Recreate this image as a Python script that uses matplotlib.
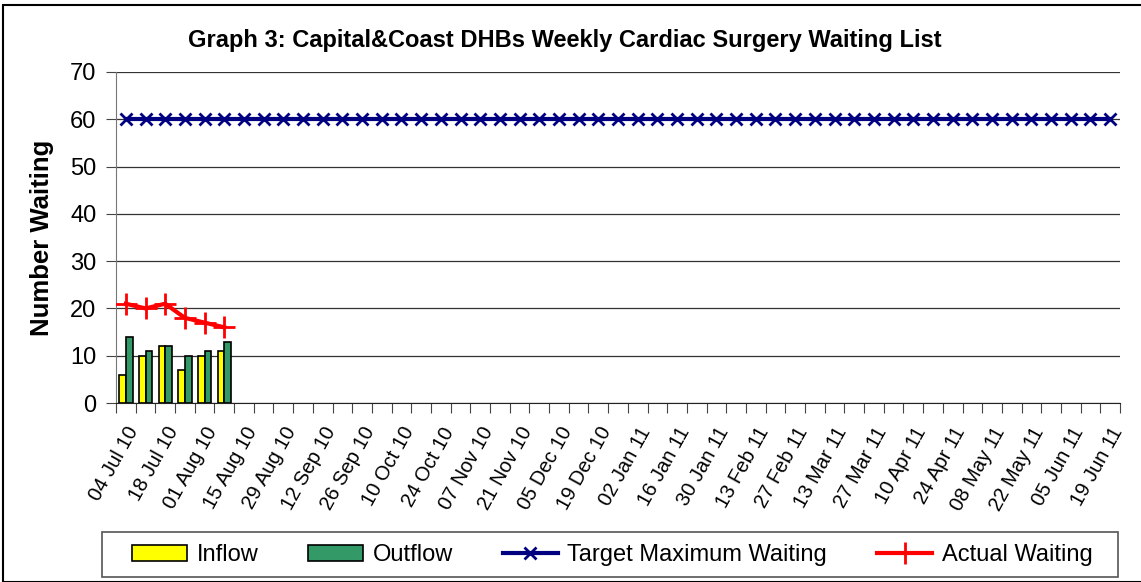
import matplotlib.pyplot as plt
import matplotlib.patches as mpatches
import matplotlib.transforms as mtransforms
import numpy as np

plt.rcParams['font.family'] = ['Liberation Sans', 'DejaVu Sans']

# Weekly categories: 04 Jul 10 .. 19 Jun 11 (51 weeks), labelled every 2nd week
week_labels = ["04 Jul 10", "18 Jul 10", "01 Aug 10", "15 Aug 10", "29 Aug 10",
               "12 Sep 10", "26 Sep 10", "10 Oct 10", "24 Oct 10", "07 Nov 10",
               "21 Nov 10", "05 Dec 10", "19 Dec 10", "02 Jan 11", "16 Jan 11",
               "30 Jan 11", "13 Feb 11", "27 Feb 11", "13 Mar 11", "27 Mar 11",
               "10 Apr 11", "24 Apr 11", "08 May 11", "22 May 11", "05 Jun 11",
               "19 Jun 11"]
n_weeks = 51

inflow = [6, 10, 12, 7, 10, 11]
outflow = [14, 11, 12, 10, 11, 13]
actual_waiting = [21, 20, 21, 18, 17, 16]
target_max = [60] * n_weeks

W, H = 1141, 582
fig = plt.figure(figsize=(W / 100, H / 100), dpi=100)
ax = fig.add_axes([116 / W, 1 - 403 / H, (1120 - 116) / W, (403 - 72) / H])

x_all = np.arange(n_weeks)
x_data = np.arange(len(inflow))
bw = 0.34

h_in = ax.bar(x_data - bw / 2, inflow, width=bw, color="#FFFF00", edgecolor="black",
              linewidth=1.2, label="Inflow", zorder=3)
h_out = ax.bar(x_data + bw / 2, outflow, width=bw, color="#339966", edgecolor="black",
               linewidth=1.2, label="Outflow", zorder=3)
h_tgt, = ax.plot(x_all, target_max, color="#000080", linewidth=3, marker="x",
                 markersize=9, markeredgewidth=2, label="Target Maximum Waiting", zorder=4)
h_act, = ax.plot(x_data, actual_waiting, color="#FF0000", linewidth=3, marker="+",
                 markersize=16, markeredgewidth=2, label="Actual Waiting", zorder=4)

ax.set_xlim(-0.5, n_weeks - 0.5)
ax.set_ylim(0, 70)
ax.set_yticks(range(0, 71, 10))
ax.yaxis.grid(True, color="#333333", linewidth=0.9, zorder=0)
ax.set_axisbelow(True)

# tick marks at category boundaries, labels at every second category
ax.set_xticks(np.arange(-0.5, n_weeks, 1.0))
ax.set_xticklabels([])
ax.set_xticks(np.arange(0, n_weeks, 2), minor=True)
ax.set_xticklabels(week_labels, minor=True, rotation=61, ha="right",
                   rotation_mode="anchor", fontsize=14.5)
shift = mtransforms.ScaledTranslation(-7 / 100, 0, fig.dpi_scale_trans)
for lbl in ax.get_xticklabels(minor=True):
    lbl.set_transform(lbl.get_transform() + shift)
ax.tick_params(axis="x", which="major", length=7, color="#444444", direction="out")
ax.tick_params(axis="x", which="minor", length=0, pad=15)
ax.tick_params(axis="y", length=7, color="#444444", labelsize=17, pad=7)

for side in ["top", "right"]:
    ax.spines[side].set_visible(False)
ax.spines["left"].set_color("#777777")
ax.spines["bottom"].set_color("#222222")

ax.set_ylabel("Number Waiting", fontsize=18.5, fontweight="bold", labelpad=12)
ax.set_title("Graph 3: Capital&Coast DHBs Weekly Cardiac Surgery Waiting List",
             fontsize=17, fontweight="bold", pad=18, x=(565 - 116) / (1120 - 116))

leg = fig.legend([h_in, h_out, h_tgt, h_act],
                 ["Inflow", "Outflow", "Target Maximum Waiting", "Actual Waiting"],
                 loc="center", bbox_to_anchor=(612 / W, 1 - 555 / H), ncol=4,
                 fontsize=17, frameon=False,
                 handlelength=2.35, handleheight=0.65, columnspacing=2.1,
                 borderpad=0.45, handletextpad=0.4, borderaxespad=0)

# legend box and outer chart border
fig.patches.append(mpatches.Rectangle((102 / W, 1 - 577 / H), (1118 - 102) / W, 45 / H,
                                      transform=fig.transFigure, fill=False,
                                      edgecolor="#555555", linewidth=1.2))
fig.patches.append(mpatches.Rectangle((3 / W, 0), 1, 1 - 5 / H, transform=fig.transFigure,
                                      fill=False, edgecolor="black", linewidth=1.5))

fig.savefig("out.png", dpi=100)
